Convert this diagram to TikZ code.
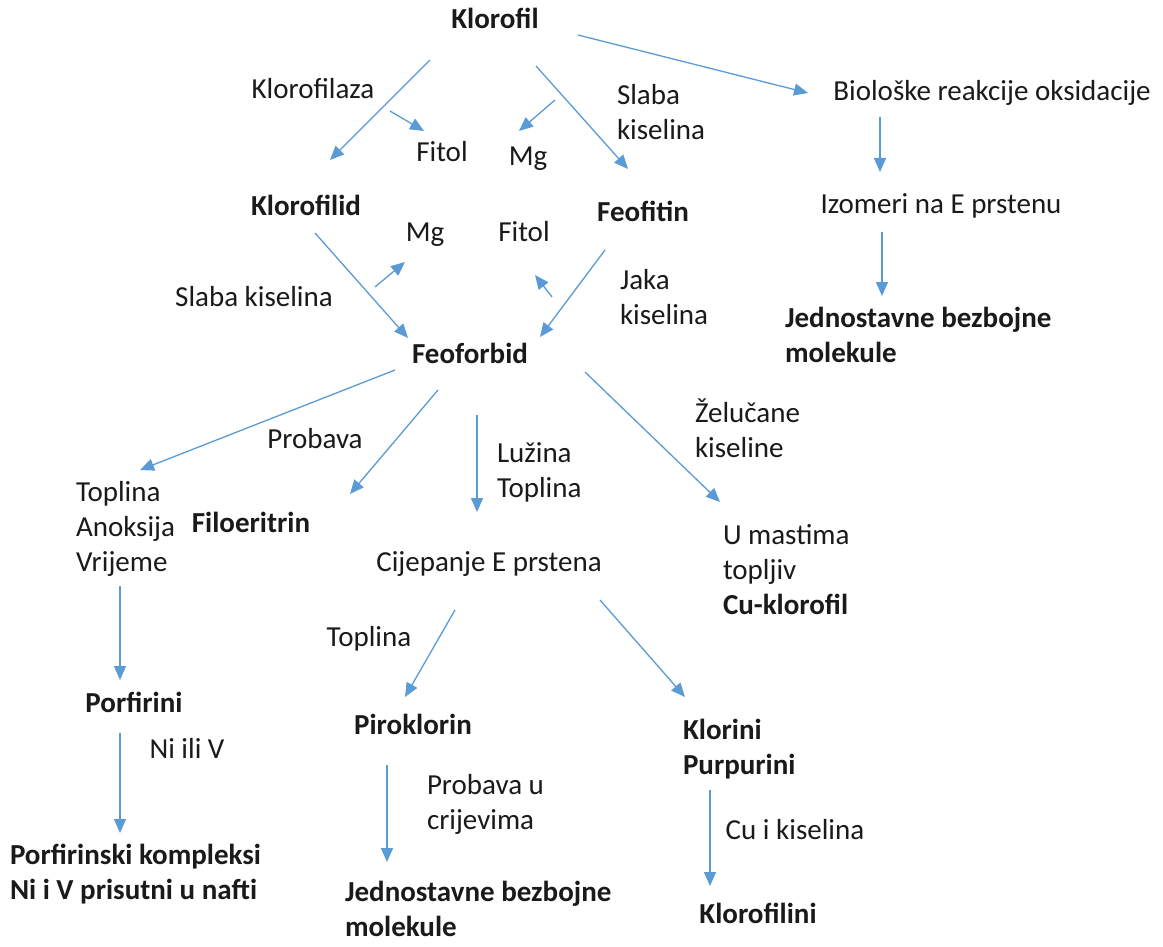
\documentclass[tikz,border=0pt]{standalone}
\usepackage{fontspec}
\setmainfont{Carlito}
\usetikzlibrary{arrows.meta}
\definecolor{arrowblue}{HTML}{5B9BD5}
\definecolor{txt}{HTML}{1A1A1A}
\newcommand{\fsz}{\fontsize{29}{35}\selectfont}
\begin{document}
\begin{tikzpicture}[x=1pt,y=-1pt,
  every node/.style={inner sep=0pt,outer sep=0pt,text=txt,font=\fsz,execute at begin node=\strut},
  lab/.style={anchor=north},
  labl/.style={anchor=north west,align=left},
  bo/.style={font=\fsz\bfseries},
  arr/.style={draw=arrowblue,line width=1.3pt,-{Triangle[length=14pt,width=12pt]}}]
\fill[white] (0,0) rectangle (1163,947);
\useasboundingbox (0,0) rectangle (1163,947);
% nodes
\node[lab,bo] (klorofil) at (495,4) {Klorofil};
\node[lab] (klorofilaza) at (313,74) {Klorofilaza};
\node[lab] (fitolA) at (442,137) {Fitol};
\node[lab] (mgA) at (528,141) {Mg};
\node[labl] (slabaA) at (617,84) {Slaba\\kiselina};
\node[lab] (bio) at (992,76) {Biološke reakcije oksidacije};
\node[lab,bo] (klorofilid) at (306,191) {Klorofilid};
\node[lab,bo] (feofitin) at (643,197) {Feofitin};
\node[lab] (mgB) at (425,217) {Mg};
\node[lab] (fitolB) at (524,217) {Fitol};
\node[lab] (izomeri) at (941,189) {Izomeri na E prstenu};
\node[lab] (slabaB) at (254,282) {Slaba kiselina};
\node[labl] (jaka) at (620,269) {Jaka\\kiselina};
\node[labl,bo] (jednR) at (785,307) {Jednostavne bezbojne\\molekule};
\node[lab,bo] (feoforbid) at (470,339) {Feoforbid};
\node[lab] (probava) at (315,424) {Probava};
\node[labl] (zeluc) at (695,399) {Želučane\\kiseline};
\node[labl] (luzina) at (497,443) {Lužina\\Toplina};
\node[labl] (toplinaL) at (76,481) {Toplina\\Anoksija\\Vrijeme};
\node[lab,bo] (filo) at (251,508) {Filoeritrin};
\node[lab] (cijep) at (489,547) {Cijepanje E prstena};
\node[labl] (umast) at (723,524) {U mastima\\topljiv\\\textbf{Cu-klorofil}};
\node[lab] (toplinaB) at (369,622) {Toplina};
\node[lab,bo] (porf) at (134,688) {Porfirini};
\node[lab,bo] (pirok) at (413,710) {Piroklorin};
\node[labl,bo] (klorini) at (683,719) {Klorini\\Purpurini};
\node[lab] (niiliv) at (187,734) {Ni ili V};
\node[labl] (probavaU) at (427,774) {Probava u\\crijevima};
\node[lab] (cuikis) at (795,815) {Cu i kiselina};
\node[labl,bo] (porfk) at (10,844) {Porfirinski kompleksi\\Ni i V prisutni u nafti};
\node[labl,bo] (jednB) at (345,881) {Jednostavne bezbojne\\molekule};
\node[lab,bo] (klorofilini) at (758,899) {Klorofilini};
% connectors
\draw[arr] ([shift={(-65,56)}]klorofil.north) -- ([shift={(24,-31)}]klorofilid.north);
\draw[arr] ([shift={(77,37)}]klorofilaza.north) -- ([shift={(-18,-6)}]fitolA.north);
\draw[arr] ([shift={(27,-41)}]mgA.north) -- ([shift={(-9,-10)}]mgA.north);
\draw[arr] ([shift={(41,62)}]klorofil.north) -- ([shift={(-15,-28)}]feofitin.north);
\draw[arr] ([shift={(83,31)}]klorofil.north) -- ([shift={(-184,17)}]bio.north);
\draw[arr] ([shift={(-112,41)}]bio.north) -- ([shift={(-61,-17)}]izomeri.north);
\draw[arr] ([shift={(-59,43)}]izomeri.north) -- ([shift={(97,-11)}]jednR.north west);
\draw[arr] ([shift={(9,42)}]klorofilid.north) -- ([shift={(-62,-1)}]feoforbid.north);
\draw[arr] ([shift={(-50,70)}]mgB.north) -- ([shift={(-20,45)}]mgB.north);
\draw[arr] ([shift={(28,80)}]fitolB.north) -- ([shift={(11,58)}]fitolB.north);
\draw[arr] ([shift={(-38,53)}]feofitin.north) -- ([shift={(70,-2)}]feoforbid.north);
\draw[arr] ([shift={(-75,31)}]feoforbid.north) -- ([shift={(64,-11)}]toplinaL.north west);
\draw[arr] ([shift={(-32,51)}]feoforbid.north) -- ([shift={(99,-14)}]filo.north);
\draw[arr] ([shift={(7,76)}]feoforbid.north) -- ([shift={(-12,-35)}]cijep.north);
\draw[arr] ([shift={(115,33)}]feoforbid.north) -- ([shift={(-3,-22)}]umast.north west);
\draw[arr] ([shift={(44,105)}]toplinaL.north west) -- ([shift={(-14,-8)}]porf.north);
\draw[arr] ([shift={(-34,63)}]cijep.north) -- ([shift={(-8,-13)}]pirok.north);
\draw[arr] ([shift={(111,53)}]cijep.north) -- ([shift={(2,-22)}]klorini.north west);
\draw[arr] ([shift={(-14,45)}]porf.north) -- ([shift={(110,-11)}]porfk.north west);
\draw[arr] ([shift={(-26,55)}]pirok.north) -- ([shift={(42,-19)}]jednB.north west);
\draw[arr] ([shift={(27,71)}]klorini.north west) -- ([shift={(-48,-13)}]klorofilini.north);
\end{tikzpicture}
\end{document}
